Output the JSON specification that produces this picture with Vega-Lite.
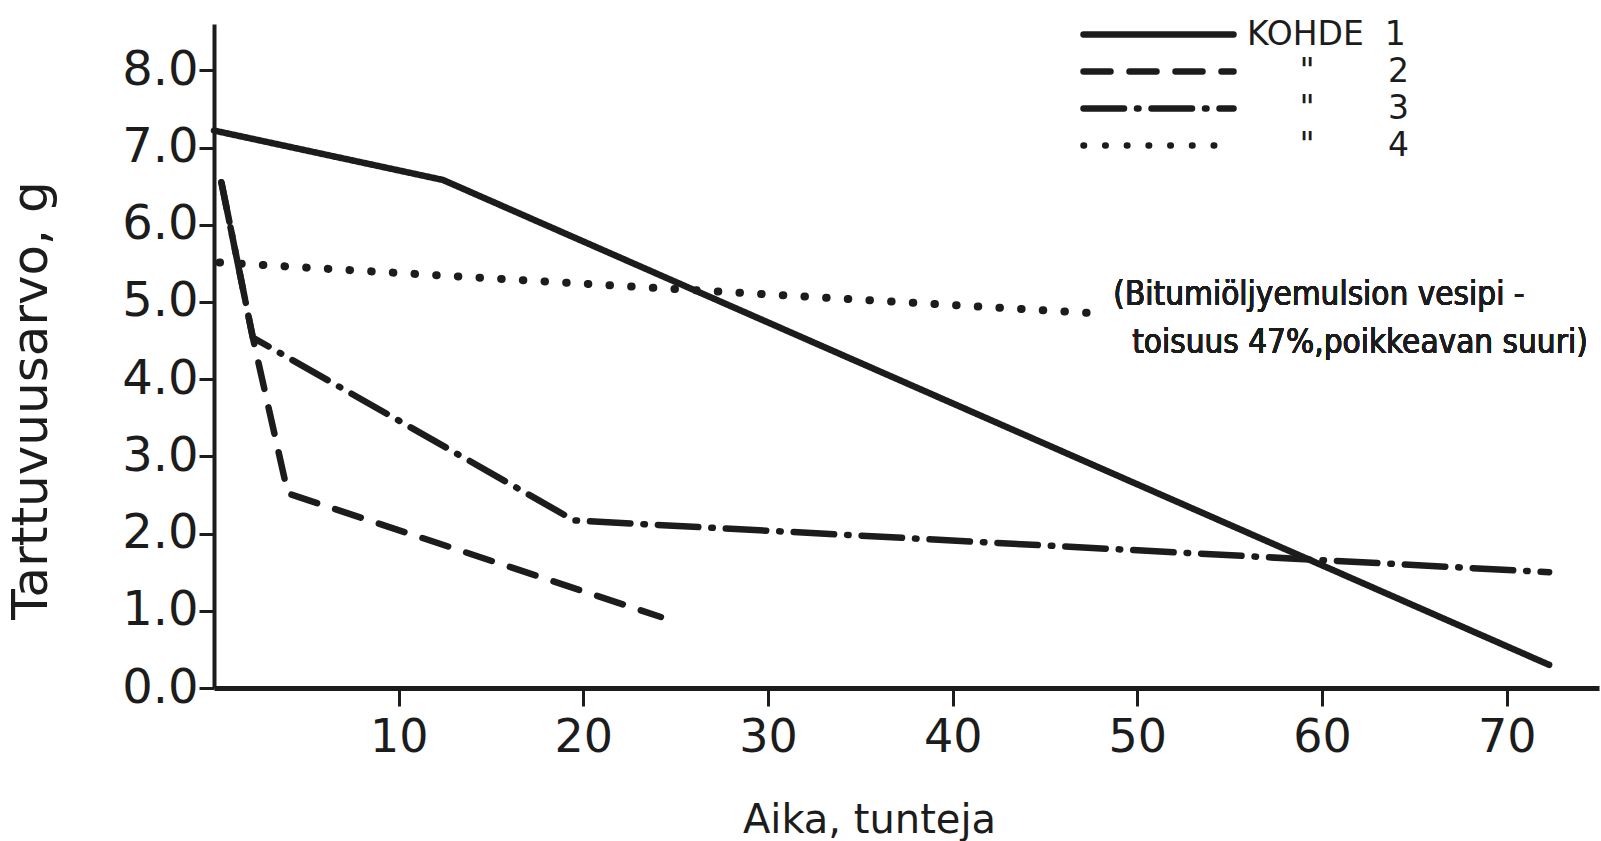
{
  "$schema": "https://vega.github.io/schema/vega-lite/v6.json",
  "width": 1385,
  "height": 664,
  "autosize": {"type": "none"},
  "padding": {"left": 214, "top": 24, "right": 2, "bottom": 153},
  "background": "white",
  "config": {
    "view": {"stroke": null},
    "font": "DejaVu Sans",
    "axis": {
      "grid": false,
      "domainColor": "#1c1c1c",
      "tickColor": "#1c1c1c",
      "labelColor": "#1c1c1c",
      "titleColor": "#1c1c1c",
      "labelFont": "DejaVu Sans",
      "titleFont": "DejaVu Sans",
      "titleFontWeight": "normal"
    }
  },
  "data": {
    "values": [
      {"kohde": "1", "aika": 0, "arvo": 7.22},
      {"kohde": "1", "aika": 12.4, "arvo": 6.58},
      {"kohde": "1", "aika": 72.3, "arvo": 0.3},
      {"kohde": "2", "aika": 0.4, "arvo": 6.55},
      {"kohde": "2", "aika": 2.1, "arvo": 4.54},
      {"kohde": "2", "aika": 4.0, "arvo": 2.52},
      {"kohde": "2", "aika": 24.2, "arvo": 0.92},
      {"kohde": "3", "aika": 0.4, "arvo": 6.55},
      {"kohde": "3", "aika": 2.1, "arvo": 4.54},
      {"kohde": "3", "aika": 19.5, "arvo": 2.17},
      {"kohde": "3", "aika": 72.3, "arvo": 1.5},
      {"kohde": "4", "aika": 0.3, "arvo": 5.51},
      {"kohde": "4", "aika": 47.9, "arvo": 4.85}
    ]
  },
  "layer": [
    {
      "transform": [{"filter": "datum.kohde != '4'"}],
      "mark": {"type": "line", "strokeCap": "round", "strokeJoin": "round", "color": "#1c1c1c", "strokeWidth": 6.5, "clip": false},
      "encoding": {
        "x": {
          "field": "aika", "type": "quantitative",
          "scale": {"domain": [0, 75], "nice": false, "zero": false},
          "axis": {
            "values": [10, 20, 30, 40, 50, 60, 70],
            "labelFontSize": 46,
            "labelPadding": 9,
            "tickSize": 18,
            "tickWidth": 3,
            "domainWidth": 5,
            "title": "Aika, tunteja",
            "titleFontSize": 40,
            "titleX": 655,
            "titleY": 144,
            "titleBaseline": "alphabetic"
          }
        },
        "y": {
          "field": "arvo", "type": "quantitative",
          "scale": {"domain": [0, 8.6], "nice": false},
          "axis": {
            "values": [0, 1, 2, 3, 4, 5, 6, 7, 8],
            "format": ".1f",
            "labelFontSize": 48,
            "labelPadding": 1,
            "tickSize": 15,
            "tickWidth": 3,
            "domainWidth": 4,
            "title": "Tarttuvuusarvo, g",
            "titleFontSize": 50,
            "titleX": -158,
            "titleY": 376
          }
        },
        "strokeDash": {
          "field": "kohde", "type": "nominal",
          "scale": {"domain": ["1", "2", "3", "4"], "range": [[1, 0], [27, 19], [40.5, 13, 1.5, 13], [0.5, 21.2]]},
          "legend": {
            "orient": "none",
            "legendX": 926,
            "legendY": -8,
            "title": null,
            "padding": 0,
            "symbolType": "M-5,0H5",
            "symbolSize": 900,
            "symbolStrokeWidth": 6.5,
            "symbolStrokeColor": "#1c1c1c",
            "labelFont": "DejaVu Sans",
            "labelFontSize": 33,
            "labelColor": "#1c1c1c",
            "labelOffset": 70,
            "labelLimit": 500,
            "rowPadding": 1,
            "labelExpr": "datum.value == '1' ? 'KOHDE\u00a0\u00a01' : '\u200b\u00a0\u00a0\u00a0\u00a0\u00a0\"\u00a0\u00a0\u00a0\u00a0\u00a0\u00a0\u00a0' + datum.value",
            "encode": {"symbols": {"update": {"strokeCap": {"value": "round"}}}}
          }
        }
      }
    },
    {
      "transform": [{"filter": "datum.kohde == '4'"}],
      "mark": {"type": "line", "strokeCap": "round", "color": "#1c1c1c", "strokeWidth": 8, "clip": false},
      "encoding": {
        "x": {"field": "aika", "type": "quantitative"},
        "y": {"field": "arvo", "type": "quantitative"},
        "strokeDash": {"field": "kohde", "type": "nominal"}
      }
    },
    {
      "mark": {
        "type": "text",
        "text": ["(Bitumiöljyemulsion vesipi -", "\u200b\u00a0\u00a0toisuus 47%,poikkeavan suuri)"],
        "align": "left",
        "baseline": "alphabetic",
        "fontSize": 33,
        "lineHeight": 48,
        "font": "'DejaVu Sans Condensed', 'DejaVu Sans'",
        "color": "#1c1c1c"
      },
      "encoding": {
        "x": {"datum": 48.7, "type": "quantitative"},
        "y": {"datum": 4.96, "type": "quantitative"}
      }
    }
  ]
}
